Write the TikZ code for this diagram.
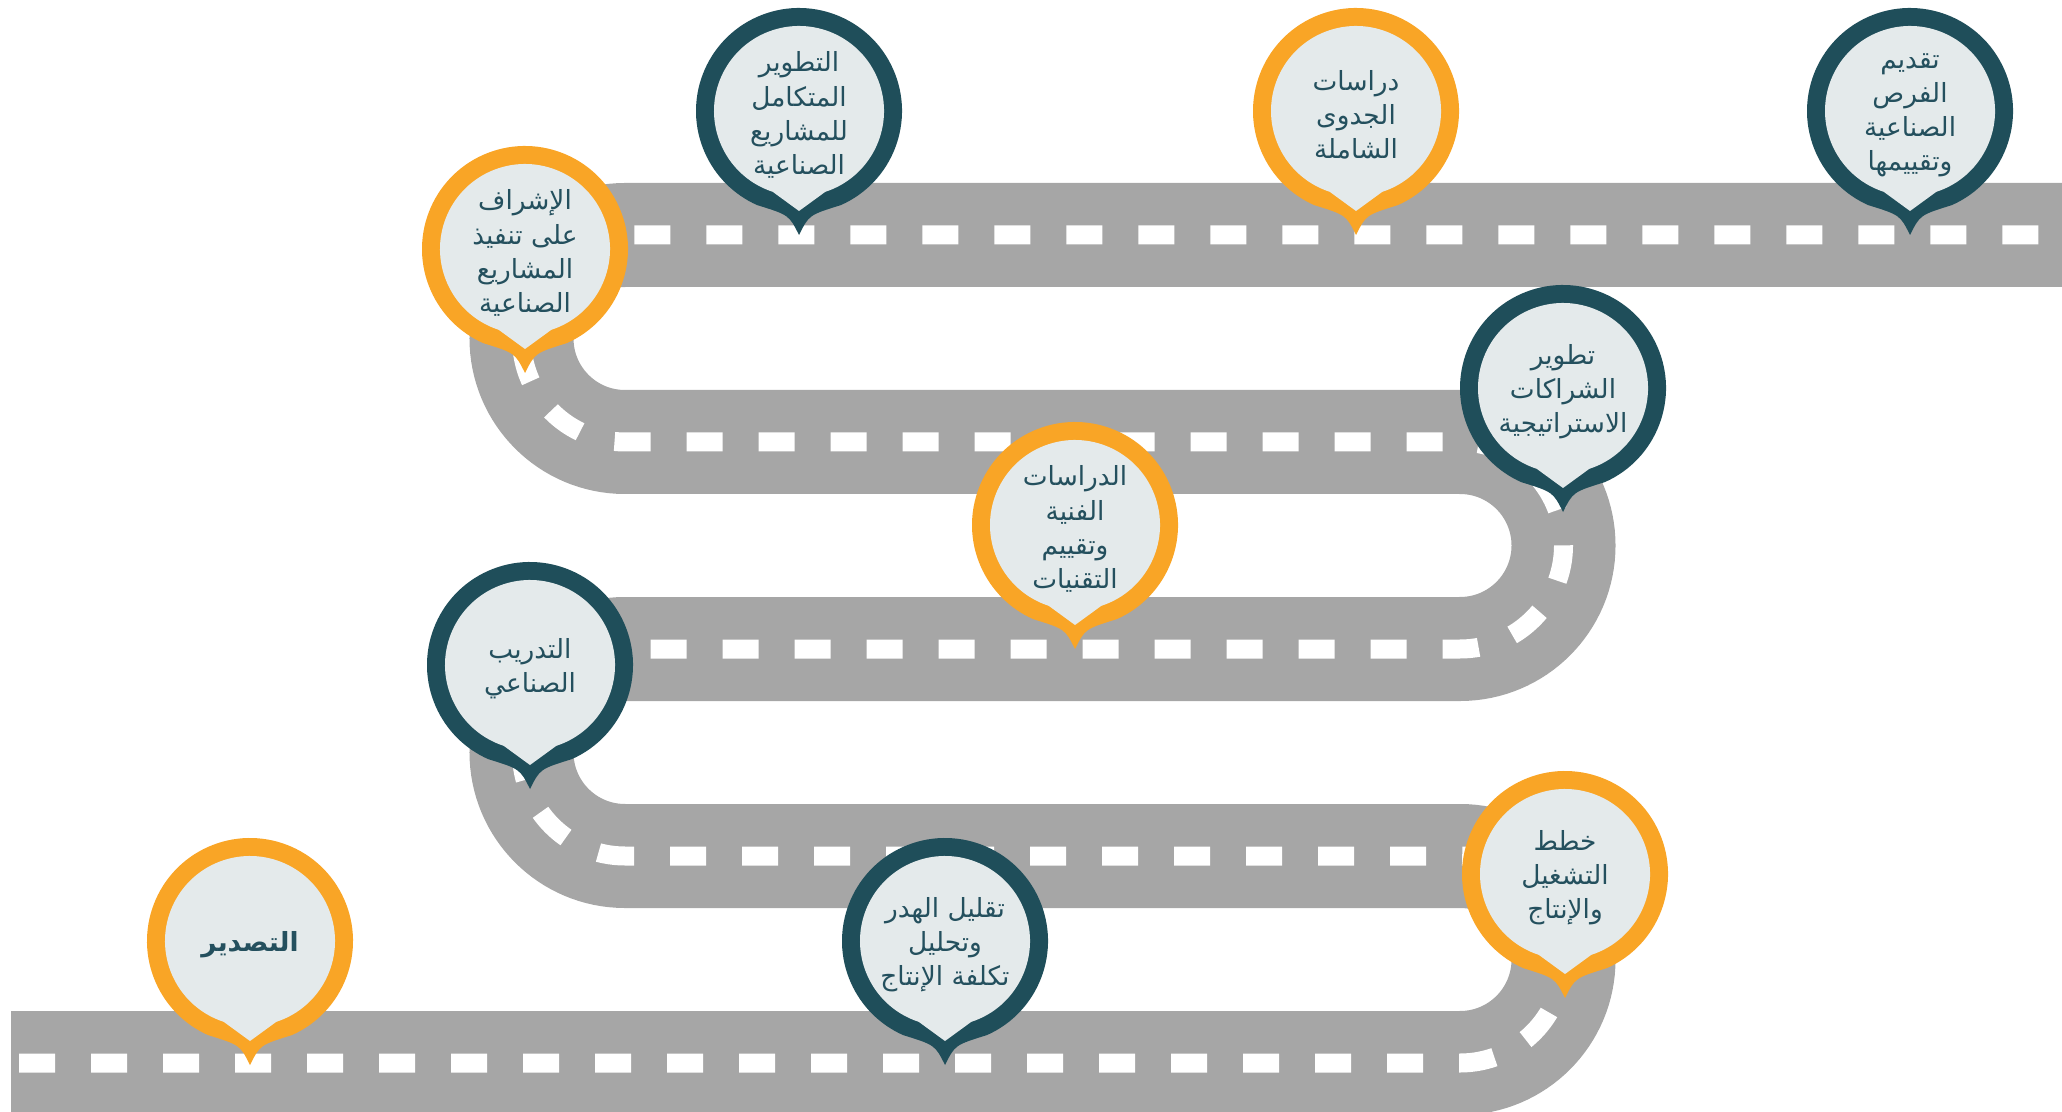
\documentclass[tikz,border=0pt]{standalone}
\usepackage{fontspec}
\usepackage{xcolor}
\TeXXeTstate=1
\newfontfamily\arabicfont[Script=Arabic]{DejaVu Sans}
\definecolor{roadgray}{HTML}{A6A6A6}
\definecolor{pinorange}{HTML}{F9A526}
\definecolor{pinteal}{HTML}{1F4E5A}
\definecolor{pinface}{HTML}{E4EAEB}
\definecolor{pintext}{HTML}{24505E}
\newcommand{\ar}[1]{\beginR #1\endR}

\begin{document}
\begin{tikzpicture}[scale=1]
  \tikzstyle roadS=[line width=1.04cm,draw=roadgray];
  \tikzstyle laneS=[draw=white,line width=0.19cm,dash pattern=on 0.36cm off 0.36cm,dash phase=0.64cm];
  \tikzstyle labelS=[text=pintext,align=center,inner sep=0pt,font=\arabicfont\fontsize{7.5}{9.7}\selectfont];
  \clip (0,0) rectangle (20.62,11.11);
  % winding road
  \draw[roadS,postaction={laneS}] (0.11,0.48) -- (14.6,0.48)
    arc[start angle=-90,end angle=90,radius=1.035] -- (6.25,2.55)
    arc[start angle=270,end angle=90,radius=1.035] -- (14.6,4.62)
    arc[start angle=-90,end angle=90,radius=1.035] -- (6.25,6.69)
    arc[start angle=270,end angle=90,radius=1.035] -- (21,8.76);
  % pins
  \foreach \pn/\px/\py/\pc/\ptext in {
    offer/19.10/10.0/pinteal/{\ar{تقديم}\\\ar{الفرص}\\\ar{الصناعية}\\\ar{وتقييمها}},
    feasibility/13.56/10.0/pinorange/{\ar{دراسات}\\\ar{الجدوى}\\\ar{الشاملة}},
    integrated/7.99/10.0/pinteal/{\ar{التطوير}\\\ar{المتكامل}\\\ar{للمشاريع}\\\ar{الصناعية}},
    supervision/5.25/8.62/pinorange/{\ar{الإشراف}\\\ar{على تنفيذ}\\\ar{المشاريع}\\\ar{الصناعية}},
    partnership/15.63/7.23/pinteal/{\ar{تطوير}\\\ar{الشراكات}\\\ar{الاستراتيجية}},
    technical/10.75/5.86/pinorange/{\ar{الدراسات}\\\ar{الفنية}\\\ar{وتقييم}\\\ar{التقنيات}},
    training/5.30/4.46/pinteal/{\ar{التدريب}\\\ar{الصناعي}},
    operation/15.65/2.37/pinorange/{\ar{خطط}\\\ar{التشغيل}\\\ar{والإنتاج}},
    waste/9.45/1.70/pinteal/{\ar{تقليل الهدر}\\\ar{وتحليل}\\\ar{تكلفة الإنتاج}},
    export/2.50/1.70/pinorange/{\bfseries\fontsize{7.5}{12}\selectfont\ar{التصدير}}}
  {
    \begin{scope}[shift={(\px,\py)}]
      \fill[\pc] (-66:1.03) arc[start angle=-66,end angle=246,radius=1.03]
        .. controls (-0.1,-1.04) .. (0,-1.24) .. controls (0.1,-1.04) .. (-66:1.03) -- cycle;
      \fill[pinface] (-72:0.85) arc[start angle=-72,end angle=252,radius=0.85] -- (0,-1.0) -- cycle;
    \end{scope}
    \node[labelS] (\pn) at ([yshift=-0.04cm]\px,\py) {\ptext};
  }
\end{tikzpicture}
\end{document}
